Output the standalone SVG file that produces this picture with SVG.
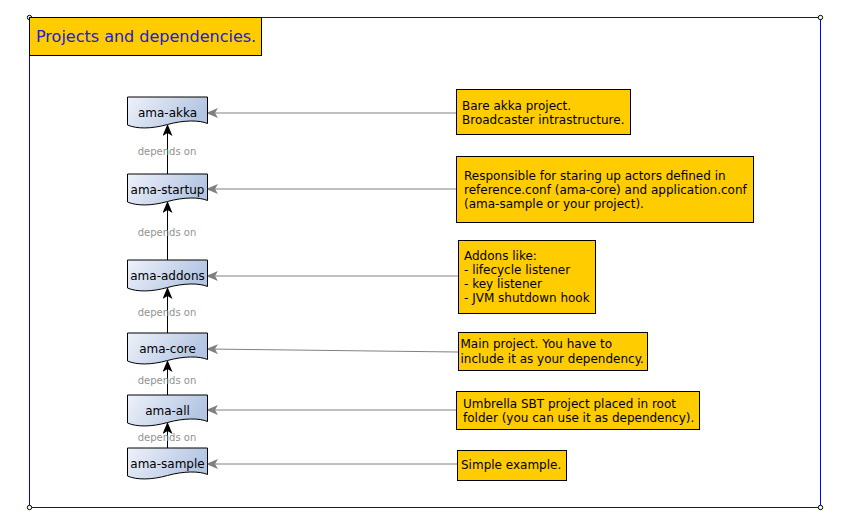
<svg xmlns="http://www.w3.org/2000/svg" width="848" height="525" viewBox="0 0 848 525">
<style>
text{font-family:"DejaVu Sans","Liberation Sans",sans-serif;}
.n{font-size:12px;fill:#000;text-anchor:middle}
.nt{font-size:12px;fill:#000}
.lbl{font-size:10px;fill:#929292;text-anchor:middle}
.doc{fill:url(#g);stroke:#000;stroke-width:1}
.note{fill:#FFCC00;stroke:#000;stroke-width:1}
.dep{stroke:#000;stroke-width:1;fill:none;marker-end:url(#ab)}
.nl{stroke:#808080;stroke-width:1;fill:none;marker-end:url(#ag)}
.cor{fill:#fff;stroke:#000;stroke-width:1}
</style>
<defs>
<linearGradient id="g" x1="0" y1="0" x2="1" y2="0.3">
<stop offset="0" stop-color="#eef2fa"/>
<stop offset="1" stop-color="#b3c5e2"/>
</linearGradient>
<marker id="ab" viewBox="0 0 12 10" refX="11" refY="5" markerWidth="12" markerHeight="10" markerUnits="userSpaceOnUse" orient="auto">
<path d="M0,0 L12,5 L0,10 L3,5 Z" fill="#000"/>
</marker>
<marker id="ag" viewBox="0 0 12 10" refX="11" refY="5" markerWidth="12" markerHeight="10" markerUnits="userSpaceOnUse" orient="auto">
<path d="M0,0 L12,5 L0,10 L3,5 Z" fill="#808080"/>
</marker>
<path id="d" d="M0,0 H80 V26.5 C72,23 56,23 40,27.5 S9,32 0,28 Z"/>
</defs>
<rect x="0" y="0" width="848" height="525" fill="#fff"/>
<g id="frame">
<rect x="29.5" y="17.5" width="791" height="490" fill="none" stroke="#0000ff" stroke-width="1"/>
<circle class="cor" cx="29.5" cy="17.5" r="2.2"/>
<circle class="cor" cx="820.5" cy="17.5" r="2.2"/>
<circle class="cor" cx="29.5" cy="507.5" r="2.2"/>
<circle class="cor" cx="820.5" cy="507.5" r="2.2"/>
</g>
<g id="title">
<rect x="29.5" y="17.5" width="232" height="38" fill="#FFCC00" stroke="#000" stroke-width="1"/>
<text x="36" y="42" font-size="16" fill="#2020d0">Projects and dependencies.</text>
</g>
<g id="connectors">
<line class="dep" x1="167.5" y1="174" x2="167.5" y2="125"/>
<line class="dep" x1="167.5" y1="260" x2="167.5" y2="202"/>
<line class="dep" x1="167.5" y1="333" x2="167.5" y2="288"/>
<line class="dep" x1="167.5" y1="395" x2="167.5" y2="361"/>
<line class="dep" x1="167.5" y1="448" x2="167.5" y2="423"/>
<text class="lbl" x="167" y="155">depends on</text>
<text class="lbl" x="167" y="236">depends on</text>
<text class="lbl" x="167" y="316">depends on</text>
<text class="lbl" x="167" y="384">depends on</text>
<text class="lbl" x="167" y="441">depends on</text>
<line class="nl" x1="456" y1="113" x2="207" y2="113"/>
<line class="nl" x1="456" y1="189" x2="207" y2="189"/>
<line class="nl" x1="458" y1="276" x2="207" y2="276"/>
<line class="nl" x1="458" y1="352" x2="207" y2="349"/>
<line class="nl" x1="457" y1="410" x2="207" y2="410"/>
<line class="nl" x1="457" y1="464" x2="207" y2="464"/>
</g>
<g id="ama-akka">
<use href="#d" class="doc" x="127.5" y="97"/>
<text class="n" x="167.5" y="117">ama-akka</text>
</g>
<g id="ama-startup">
<use href="#d" class="doc" x="127.5" y="174"/>
<text class="n" x="167.5" y="194">ama-startup</text>
</g>
<g id="ama-addons">
<use href="#d" class="doc" x="127.5" y="260"/>
<text class="n" x="167.5" y="280">ama-addons</text>
</g>
<g id="ama-core">
<use href="#d" class="doc" x="127.5" y="333"/>
<text class="n" x="167.5" y="353">ama-core</text>
</g>
<g id="ama-all">
<use href="#d" class="doc" x="127.5" y="395"/>
<text class="n" x="167.5" y="415">ama-all</text>
</g>
<g id="ama-sample">
<use href="#d" class="doc" x="127.5" y="448"/>
<text class="n" x="167.5" y="468">ama-sample</text>
</g>
<g id="note-akka">
<rect class="note" x="456.5" y="89.5" width="174" height="45"/>
<text class="nt" x="462" y="110">Bare akka project.</text>
<text class="nt" x="462" y="124">Broadcaster intrastructure.</text>
</g>
<g id="note-startup">
<rect class="note" x="456.5" y="156.5" width="297" height="66"/>
<text class="nt" x="464" y="180">Responsible for staring up actors defined in</text>
<text class="nt" x="464" y="194">reference.conf (ama-core) and application.conf</text>
<text class="nt" x="464" y="208">(ama-sample or your project).</text>
</g>
<g id="note-addons">
<rect class="note" x="458.5" y="240.5" width="137" height="73"/>
<text class="nt" x="464" y="260">Addons like:</text>
<text class="nt" x="464" y="274">- lifecycle listener</text>
<text class="nt" x="464" y="288">- key listener</text>
<text class="nt" x="464" y="302">- JVM shutdown hook</text>
</g>
<g id="note-core">
<rect class="note" x="458.5" y="332.5" width="189" height="38"/>
<text class="nt" x="460.5" y="348">Main project. You have to</text>
<text class="nt" x="460.5" y="363">include it as your dependency.</text>
</g>
<g id="note-all">
<rect class="note" x="456.5" y="391.5" width="243" height="38"/>
<text class="nt" x="463" y="408">Umbrella SBT project placed in root</text>
<text class="nt" x="463" y="422">folder (you can use it as dependency).</text>
</g>
<g id="note-sample">
<rect class="note" x="457.5" y="450.5" width="109" height="30"/>
<text class="nt" x="461" y="469">Simple example.</text>
</g>
</svg>
